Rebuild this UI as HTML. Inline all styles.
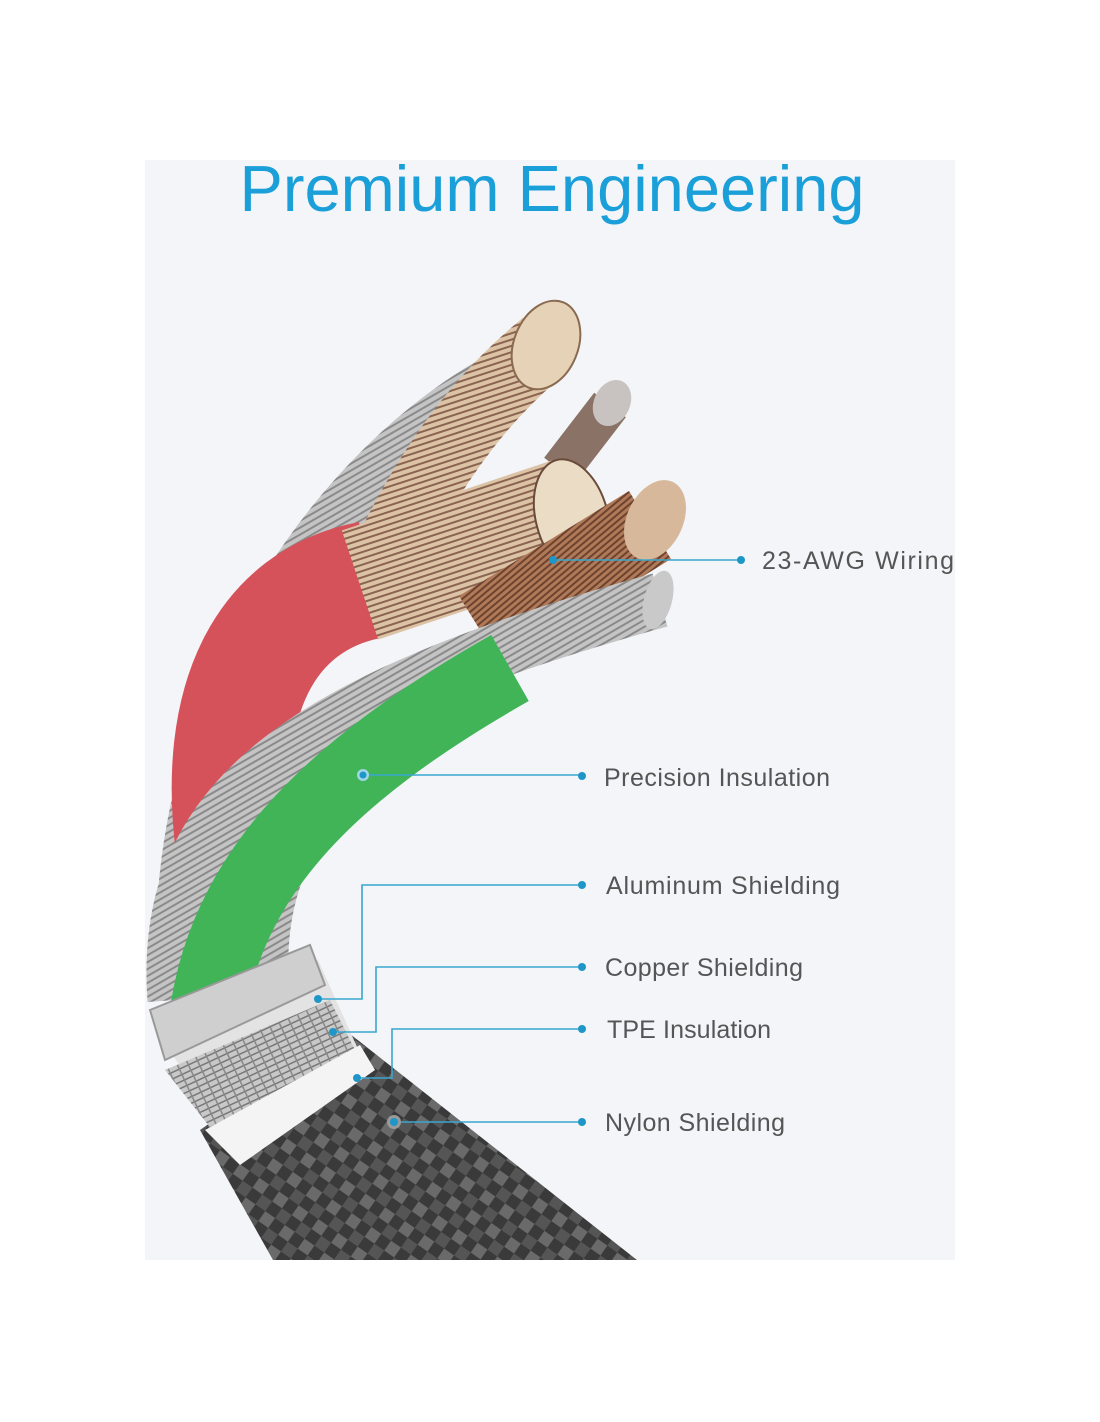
<!DOCTYPE html>
<html><head><meta charset="utf-8"><style>
html,body{margin:0;padding:0;background:#fff;}
body{width:1100px;height:1422px;position:relative;overflow:hidden;font-family:"Liberation Sans",sans-serif;}
svg{position:absolute;left:0;top:0;}
</style></head><body>
<svg width="1100" height="1422" viewBox="0 0 1100 1422">
<defs>
<pattern id="str" width="6" height="6" patternUnits="userSpaceOnUse" patternTransform="rotate(-30)"><rect width="6" height="6" fill="#c4c4c4"/><rect width="6" height="2" fill="#8a8a8a"/></pattern>
<pattern id="cop" width="6" height="6" patternUnits="userSpaceOnUse" patternTransform="rotate(-18)"><rect width="6" height="6" fill="#dcc3a6"/><rect width="6" height="2" fill="#8a6450"/></pattern>
<pattern id="cop2" width="5" height="5" patternUnits="userSpaceOnUse" patternTransform="rotate(-40)"><rect width="5" height="5" fill="#b07a58"/><rect width="5" height="2" fill="#6d4330"/></pattern>
<pattern id="knurl" width="10" height="6" patternUnits="userSpaceOnUse" patternTransform="rotate(-25)"><rect width="10" height="6" fill="#c8c8c8"/><rect width="10" height="1.5" fill="#777"/><rect width="1.5" height="6" fill="#888"/></pattern>
<pattern id="braid" width="24" height="24" patternUnits="userSpaceOnUse" patternTransform="rotate(35)"><rect width="24" height="24" fill="#3a3a3a"/><rect width="12" height="12" fill="#6a6a6a"/><rect x="12" y="12" width="12" height="12" fill="#555"/></pattern>
</defs>
<rect x="145" y="160" width="810" height="1100" fill="#f3f5f8"/>
<text x="552" y="211" text-anchor="middle" font-family="Liberation Sans, sans-serif" font-size="65" fill="#1a9fd9">Premium Engineering</text>

<polygon points="345,1030 637,1260 273,1260 200,1130" fill="url(#braid)"/>
<path d="M185,900 C200,680 330,480 490,385" stroke="url(#str)" stroke-width="55" fill="none"/>
<ellipse cx="492" cy="385" rx="24" ry="33" transform="rotate(20 492 385)" fill="#c9c9c9" stroke="#888" stroke-width="2"/>
<path d="M395,540 C440,450 490,390 545,345" stroke="url(#cop)" stroke-width="70" fill="none"/>
<ellipse cx="546" cy="345" rx="32" ry="46" transform="rotate(22 546 345)" fill="#e6d2b6" stroke="#8a6a50" stroke-width="2"/>
<path d="M560,470 L610,405" stroke="#8a7266" stroke-width="40" fill="none"/>
<ellipse cx="612" cy="403" rx="18" ry="24" transform="rotate(25 612 403)" fill="#c8c2c0"/>
<path d="M260,1010 C250,900 280,830 330,800" stroke="url(#str)" stroke-width="60" fill="none"/>
<path d="M235,850 C215,700 265,600 370,580" stroke="#d6525a" stroke-width="118" fill="none"/>
<path d="M360,585 L570,515" stroke="url(#cop)" stroke-width="115" fill="none"/>
<ellipse cx="572" cy="518" rx="36" ry="60" transform="rotate(-15 572 518)" fill="#ebdcc6" stroke="#6a4a38" stroke-width="2"/>
<path d="M480,630 L650,525" stroke="url(#cop2)" stroke-width="80" fill="none"/>
<ellipse cx="655" cy="520" rx="28" ry="42" transform="rotate(25 655 520)" fill="#d7b89a"/>
<path d="M175,1000 C160,800 300,700 660,600" stroke="url(#str)" stroke-width="55" fill="none"/>
<ellipse cx="658" cy="600" rx="14" ry="30" transform="rotate(15 658 600)" fill="#c9c9c9"/>
<path d="M205,1040 C215,880 330,770 510,668" stroke="#40b457" stroke-width="76" fill="none"/>
<polygon points="160,1035 318,960 362,1058 240,1160" fill="#e3e3e3"/>
<polygon points="165,1070 330,1000 355,1050 220,1140" fill="url(#knurl)"/>
<polygon points="150,1010 310,945 325,985 165,1060" fill="#cfcfcf" stroke="#999" stroke-width="2"/>
<polygon points="205,1130 360,1045 375,1070 240,1165" fill="#f4f4f4"/>

<g stroke="#3aa7cf" stroke-width="1.6" fill="none">
<polyline points="553,560 741,560"/>
<polyline points="363,775 582,775"/>
<polyline points="318,999 362,999 362,885 582,885"/>
<polyline points="333,1032 376,1032 376,967 582,967"/>
<polyline points="357,1078 392,1078 392,1029 582,1029"/>
<polyline points="394,1122 582,1122"/>
</g>
<g fill="#1e96c8">
<circle cx="741" cy="560" r="4"/><circle cx="553" cy="560" r="4"/>
<circle cx="582" cy="776" r="4"/><circle cx="363" cy="775" r="6" fill="#9fd6e8"/><circle cx="363" cy="775" r="3.5"/>
<circle cx="582" cy="885" r="4"/><circle cx="318" cy="999" r="4"/>
<circle cx="582" cy="967" r="4"/><circle cx="333" cy="1032" r="4"/>
<circle cx="582" cy="1029" r="4"/><circle cx="357" cy="1078" r="4"/>
<circle cx="582" cy="1122" r="4"/><circle cx="394" cy="1122" r="7" fill="#999"/><circle cx="394" cy="1122" r="4"/>
</g>
<g font-family="Liberation Sans, sans-serif" font-size="25" fill="#555">
<text x="762" y="569" textLength="192">23-AWG Wiring</text>
<text x="604" y="786" textLength="226">Precision Insulation</text>
<text x="606" y="894" textLength="234">Aluminum Shielding</text>
<text x="605" y="976" textLength="198">Copper Shielding</text>
<text x="607" y="1038" textLength="164">TPE Insulation</text>
<text x="605" y="1131" textLength="180">Nylon Shielding</text>
</g>
</svg>
</body></html>
